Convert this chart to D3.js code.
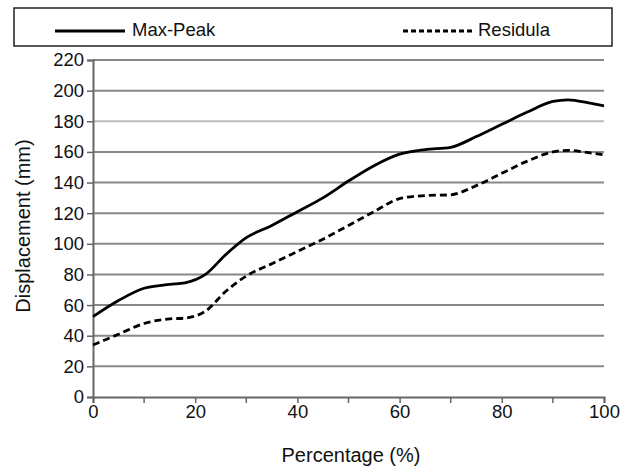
<!DOCTYPE html>
<html><head><meta charset="utf-8">
<script src="https://cdn.jsdelivr.net/npm/d3@7"></script>
<style>body{margin:0;background:#fff}svg{display:block}text{font-family:"Liberation Sans",Arial,sans-serif;fill:#111}</style>
</head><body><svg id="c" width="629" height="470"></svg>
<script>
const pct = [0,5,10,15,18,22,26,30,35,40,45,50,55,60,65,70,75,80,85,90,93,97,100];
const maxPeak = [52.5,63,71,73.5,74.5,80,93,104,112,121,130,141,151,158.5,161.5,163,170,178,186,193,194,192,190];
const residula = [34,41,48,51,51.5,56,69,79,87,95,103,112,121,129.5,131.5,132,138,146,154,160,161,159.5,158];
const yTicks = [0,20,40,60,80,100,120,140,160,180,200,220];
const xTicks = [0,20,40,60,80,100];
const xMinor = [10,30,50,70,90];
const seriesNames = ["Max-Peak","Residula"];

const svg = d3.select("#c");
const x = d3.scaleLinear().domain([0,100]).range([93,604]);
const y = d3.scaleLinear().domain([0,220]).range([397,60]);

// gridlines
svg.append("g").selectAll("line").data(yTicks.filter(d=>d>0)).join("line")
  .attr("x1",x(0)).attr("x2",x(100)).attr("y1",d=>y(d)).attr("y2",d=>y(d))
  .attr("stroke",d=>d===180?"#bbb":"#888").attr("stroke-width",2);

// y axis
const ya = svg.append("g").attr("transform",`translate(${x(0)},0)`)
  .call(d3.axisLeft(y).tickValues(yTicks).tickSize(6).tickPadding(3));
ya.select(".domain").attr("stroke","#666").attr("stroke-width",2);
ya.selectAll(".tick line").attr("stroke","#666").attr("stroke-width",1.5);
ya.selectAll("text").style("font-size","18.5px").style("font-family","Liberation Sans, Arial, sans-serif").attr("fill","#111");

// x axis
const xa = svg.append("g").attr("transform",`translate(0,${y(0)})`)
  .call(d3.axisBottom(x).tickValues(xTicks).tickSize(6).tickPadding(2));
xa.select(".domain").attr("stroke","#666").attr("stroke-width",2);
xa.selectAll(".tick line").attr("stroke","#666").attr("stroke-width",1.5);
xa.selectAll("text").style("font-size","18.5px").style("font-family","Liberation Sans, Arial, sans-serif").attr("fill","#111");
svg.append("g").selectAll("line").data(xMinor).join("line")
  .attr("x1",d=>x(d)).attr("x2",d=>x(d)).attr("y1",y(0)).attr("y2",y(0)+6)
  .attr("stroke","#666").attr("stroke-width",1.5);

// lines
const line = d3.line().x((d,i)=>x(pct[i])).y(d=>y(d)).curve(d3.curveMonotoneX);
svg.append("path").attr("d",line(maxPeak)).attr("fill","none").attr("stroke","#000").attr("stroke-width",2.8);
svg.append("path").attr("d",line(residula)).attr("fill","none").attr("stroke","#000").attr("stroke-width",2.8).attr("stroke-dasharray","7,4");

// axis titles
svg.append("text").attr("x",351).attr("y",462).attr("text-anchor","middle").style("font-size","20px").text("Percentage (%)");
svg.append("text").attr("transform","translate(30,226) rotate(-90)").attr("text-anchor","middle").style("font-size","20px").text("Displacement (mm)");

// legend
svg.append("rect").attr("x",14).attr("y",8).attr("width",598).attr("height",38).attr("fill","none").attr("stroke","#222").attr("stroke-width",1.5);
svg.append("line").attr("x1",55).attr("x2",125).attr("y1",31).attr("y2",31).attr("stroke","#000").attr("stroke-width",2.8);
svg.append("text").attr("x",132).attr("y",36).style("font-size","18.5px").text(seriesNames[0]);
svg.append("line").attr("x1",403).attr("x2",475).attr("y1",31).attr("y2",31).attr("stroke","#000").attr("stroke-width",2.8).attr("stroke-dasharray","5,3");
svg.append("text").attr("x",478).attr("y",36).style("font-size","18.5px").text(seriesNames[1]);
</script></body></html>
